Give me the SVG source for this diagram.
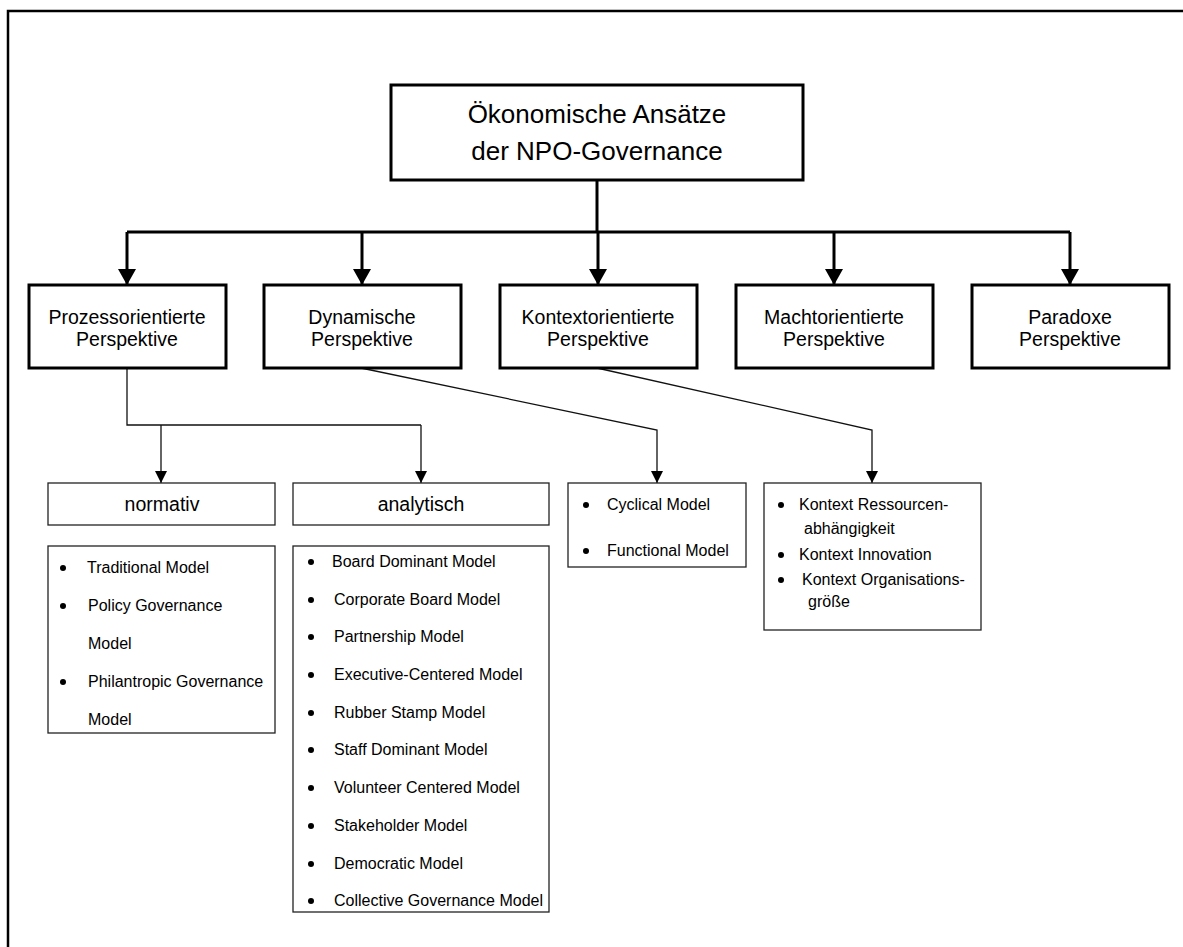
<svg xmlns="http://www.w3.org/2000/svg" width="1183" height="947" viewBox="0 0 1183 947">
<style>
text{font-family:"Liberation Sans",Arial,sans-serif;fill:#000}
.main{font-size:26px;text-anchor:middle}
.persp{font-size:19.5px;text-anchor:middle}
.sub{font-size:19.5px;text-anchor:middle}
.li{font-size:16px}
.thick{fill:#fff;stroke:#000;stroke-width:3}
.thin{fill:#fff;stroke:#222;stroke-width:1.3}
.c3{fill:none;stroke:#000;stroke-width:3}
.c1{fill:none;stroke:#111;stroke-width:1.3}
</style>
<defs>
<marker id="big" viewBox="0 0 16 18" refX="16" refY="9" markerWidth="16" markerHeight="18" markerUnits="userSpaceOnUse" orient="auto"><path d="M0,0 L16,9 L0,18 Z" fill="#000"/></marker>
<marker id="sm" viewBox="0 0 12 12" refX="12" refY="6" markerWidth="12" markerHeight="12" markerUnits="userSpaceOnUse" orient="auto"><path d="M0,0 L12,6 L0,12 Z" fill="#000"/></marker>
</defs>
<rect width="1183" height="947" fill="#fff"/>
<path d="M8,947 V11 H1183" fill="none" stroke="#000" stroke-width="2.5"/>

<g id="connectors">
<path class="c3" d="M597,180 V232"/>
<path class="c3" d="M127,232 H1070"/>
<path class="c3" d="M127,232 V285" marker-end="url(#big)"/>
<path class="c3" d="M362,232 V285" marker-end="url(#big)"/>
<path class="c3" d="M598,232 V285" marker-end="url(#big)"/>
<path class="c3" d="M834,232 V285" marker-end="url(#big)"/>
<path class="c3" d="M1070,232 V285" marker-end="url(#big)"/>
<path class="c1" d="M127,368 V425 H421"/>
<path class="c1" d="M161,425 V483" marker-end="url(#sm)"/>
<path class="c1" d="M421,425 V483" marker-end="url(#sm)"/>
<path class="c1" d="M361,368 L657,430 V483" marker-end="url(#sm)"/>
<path class="c1" d="M597,368 L872,430 V483" marker-end="url(#sm)"/>
</g>

<g id="root">
<rect class="thick" x="391" y="85" width="412" height="95"/>
<text class="main" x="597" y="123">Ökonomische Ansätze</text>
<text class="main" x="597" y="160">der NPO-Governance</text>
</g>

<g id="p1">
<rect class="thick" x="29" y="285" width="197" height="83"/>
<text class="persp" x="127" y="324">Prozessorientierte</text>
<text class="persp" x="127" y="346">Perspektive</text>
</g>
<g id="p2">
<rect class="thick" x="264" y="285" width="197" height="83"/>
<text class="persp" x="362" y="324">Dynamische</text>
<text class="persp" x="362" y="346">Perspektive</text>
</g>
<g id="p3">
<rect class="thick" x="500" y="285" width="197" height="83"/>
<text class="persp" x="598" y="324">Kontextorientierte</text>
<text class="persp" x="598" y="346">Perspektive</text>
</g>
<g id="p4">
<rect class="thick" x="736" y="285" width="197" height="83"/>
<text class="persp" x="834" y="324">Machtorientierte</text>
<text class="persp" x="834" y="346">Perspektive</text>
</g>
<g id="p5">
<rect class="thick" x="972" y="285" width="197" height="83"/>
<text class="persp" x="1070" y="324">Paradoxe</text>
<text class="persp" x="1070" y="346">Perspektive</text>
</g>

<g id="normativ">
<rect class="thin" x="48" y="483" width="227" height="42"/>
<text class="sub" x="162" y="511">normativ</text>
</g>
<g id="normativ-list">
<rect class="thin" x="48" y="546" width="227" height="187"/>
<g fill="#000"><circle cx="63" cy="568" r="3"/><circle cx="63" cy="606" r="3"/><circle cx="63" cy="682" r="3"/></g>
<text class="li" x="87" y="573">Traditional Model</text>
<text class="li" x="88" y="611">Policy Governance</text>
<text class="li" x="88" y="649">Model</text>
<text class="li" x="88" y="687">Philantropic Governance</text>
<text class="li" x="88" y="725">Model</text>
</g>

<g id="analytisch">
<rect class="thin" x="293" y="483" width="256" height="42"/>
<text class="sub" x="421" y="511">analytisch</text>
</g>
<g id="analytisch-list">
<rect class="thin" x="293" y="546" width="256" height="366"/>
<g fill="#000">
<circle cx="311" cy="562" r="3"/><circle cx="311" cy="600" r="3"/><circle cx="311" cy="637" r="3"/><circle cx="311" cy="675" r="3"/><circle cx="311" cy="713" r="3"/><circle cx="311" cy="750" r="3"/><circle cx="311" cy="788" r="3"/><circle cx="311" cy="826" r="3"/><circle cx="311" cy="864" r="3"/><circle cx="311" cy="901" r="3"/>
</g>
<text class="li" x="332" y="567">Board Dominant Model</text>
<text class="li" x="334" y="605">Corporate Board Model</text>
<text class="li" x="334" y="642">Partnership Model</text>
<text class="li" x="334" y="680">Executive-Centered Model</text>
<text class="li" x="334" y="718">Rubber Stamp Model</text>
<text class="li" x="334" y="755">Staff Dominant Model</text>
<text class="li" x="334" y="793">Volunteer Centered Model</text>
<text class="li" x="334" y="831">Stakeholder Model</text>
<text class="li" x="334" y="869">Democratic Model</text>
<text class="li" x="334" y="906">Collective Governance Model</text>
</g>

<g id="dynamic-list">
<rect class="thin" x="568" y="483" width="178" height="84"/>
<g fill="#000"><circle cx="586" cy="505" r="3"/><circle cx="586" cy="551" r="3"/></g>
<text class="li" x="607" y="510">Cyclical Model</text>
<text class="li" x="607" y="556">Functional Model</text>
</g>

<g id="context-list">
<rect class="thin" x="764" y="483" width="217" height="147"/>
<g fill="#000"><circle cx="781" cy="505" r="3"/><circle cx="781" cy="555" r="3"/><circle cx="781" cy="580" r="3"/></g>
<text class="li" x="799" y="510">Kontext Ressourcen-</text>
<text class="li" x="804" y="534">abhängigkeit</text>
<text class="li" x="799" y="560">Kontext Innovation</text>
<text class="li" x="802" y="585">Kontext Organisations-</text>
<text class="li" x="808" y="607">größe</text>
</g>
</svg>
